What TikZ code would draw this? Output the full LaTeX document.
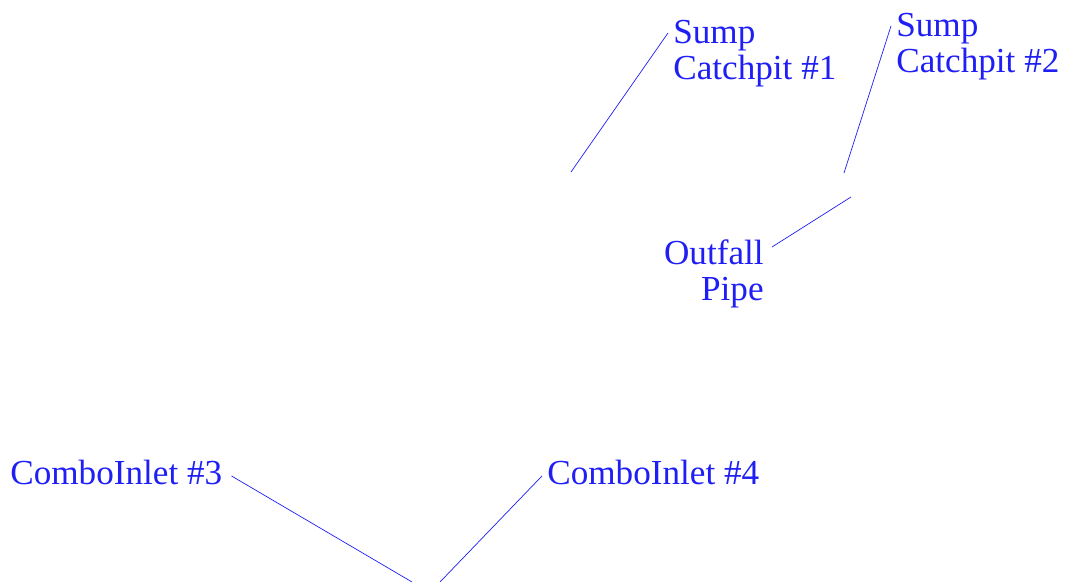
\documentclass[tikz,border=0pt]{standalone}
\usepackage{fontspec}
\setmainfont{Liberation Serif}
\usepackage{tikz}
\usetikzlibrary{%
  calc,%
  positioning%
}
\definecolor{pipeblue}{RGB}{30,30,245}
\tikzset{>=latex}
\tikzset{
  lbl/.style={text=pipeblue,font=\fontsize{20}{20.5}\selectfont,inner sep=0.1cm},
  leader/.style={draw=pipeblue,line width=0.4pt}
}

\begin{document}
\begin{tikzpicture}
    \useasboundingbox (0cm,0cm) rectangle (21.5cm,11.64cm);

    \draw (13.36cm,11.34cm) node[lbl,anchor=north west,align=left] (sump1) {Sump\\ Catchpit \#1};
    \draw (17.82cm,11.48cm) node[lbl,anchor=north west,align=left] (sump2) {Sump\\ Catchpit \#2};
    \draw (15.38cm,6.96cm) node[lbl,anchor=north east,align=right] (outfall) {Outfall\\ Pipe};

    \draw (0.10cm,1.94cm) node[lbl,anchor=base west] (inlet3) {ComboInlet \#3};
    \draw (10.84cm,1.94cm) node[lbl,anchor=base west] (inlet4) {ComboInlet \#4};

    \coordinate (sump1end) at (11.42cm,8.20cm);
    \coordinate (sump2end) at (16.88cm,8.18cm);
    \coordinate (outfallend) at (17.02cm,7.70cm);
    \coordinate (inlet3end) at (8.24cm,0cm);
    \coordinate (inlet4end) at (8.80cm,0cm);

    \draw[leader] ([yshift=-0.36cm]sump1.north west) -- (sump1end);
    \draw[leader] ([yshift=-0.36cm]sump2.north west) -- (sump2end);
    \draw[leader] ([shift={(0.06cm,-0.26cm)}]outfall.north east) -- (outfallend);
    \draw[leader] ([shift={(0.08cm,-0.06cm)}]inlet3.east) -- (inlet3end);
    \draw[leader] ([yshift=-0.06cm]inlet4.west) -- (inlet4end);
\end{tikzpicture}
\end{document}
